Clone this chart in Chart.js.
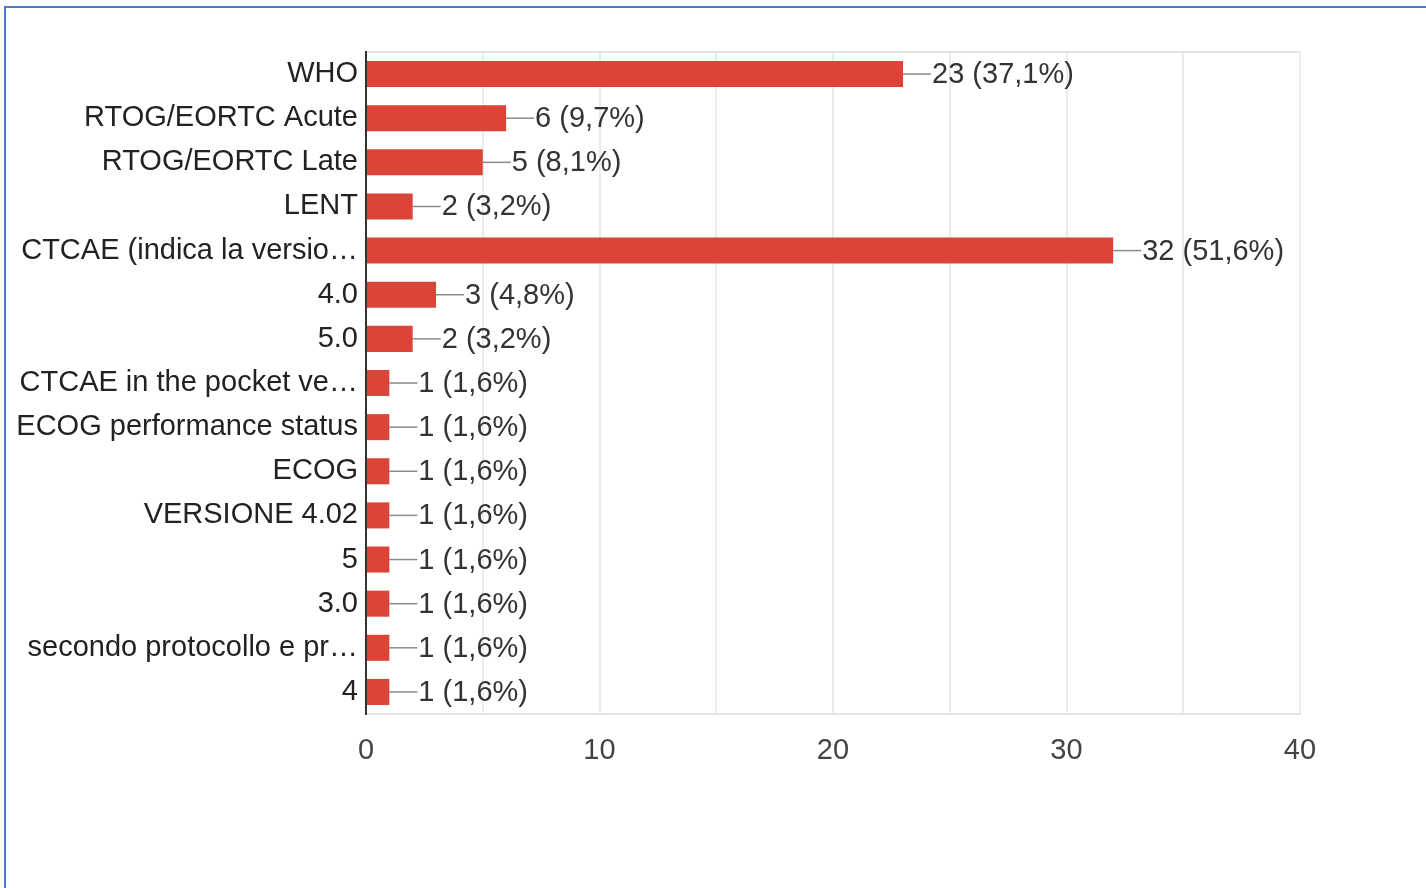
<!DOCTYPE html>
<html>
<head>
<meta charset="utf-8">
<script src="https://cdn.jsdelivr.net/npm/chart.js@4"></script>
<style>
  html, body { margin: 0; padding: 0; background: #fff; }
  body { width: 1426px; height: 888px; position: relative; overflow: hidden; }
  .frame {
    position: absolute; left: 4px; top: 6px; right: 0; bottom: -10px;
    border-top: 2px solid #4a7bd0; border-left: 2px solid #4a7bd0;
  }
  .wrap { position: absolute; left: 0; top: 0; width: 1426px; height: 888px; }
</style>
</head>
<body>
<div class="frame"></div>
<div class="wrap"><canvas id="c"></canvas></div>
<script>
"use strict";

const categories = [
  "WHO",
  "RTOG/EORTC Acute",
  "RTOG/EORTC Late",
  "LENT",
  "CTCAE (indica la versio…",
  "4.0",
  "5.0",
  "CTCAE in the pocket ve…",
  "ECOG performance status",
  "ECOG",
  "VERSIONE 4.02",
  "5",
  "3.0",
  "secondo protocollo e pr…",
  "4",
];
const counts = [23, 6, 5, 2, 32, 3, 2, 1, 1, 1, 1, 1, 1, 1, 1];
const percents = ["37,1%", "9,7%", "8,1%", "3,2%", "51,6%", "4,8%", "3,2%",
  "1,6%", "1,6%", "1,6%", "1,6%", "1,6%", "1,6%", "1,6%", "1,6%"];

const BAR = "#db4437";
const GRID = "#ebebeb";
const FONT = '"Liberation Sans", Arial, sans-serif';

// leader line + "n (p%)" at the end of each bar
const valueLabels = {
  id: "valueLabels",
  afterDatasetsDraw(chart) {
    const ctx = chart.ctx;
    const meta = chart.getDatasetMeta(0);
    ctx.save();
    ctx.font = "29px " + FONT;
    ctx.textAlign = "left";
    ctx.textBaseline = "middle";
    meta.data.forEach((bar, i) => {
      ctx.strokeStyle = "#8a8a8a";
      ctx.lineWidth = 1.5;
      ctx.beginPath();
      ctx.moveTo(bar.x, bar.y);
      ctx.lineTo(bar.x + 28, bar.y);
      ctx.stroke();
      ctx.fillStyle = "#333";
      ctx.fillText(counts[i] + " (" + percents[i] + ")", bar.x + 29, bar.y + 1);
    });
    ctx.restore();
  },
};

new Chart(document.getElementById("c"), {
  type: "bar",
  data: {
    labels: categories,
    datasets: [{
      data: counts,
      backgroundColor: BAR,
      borderWidth: 0,
      barPercentage: 0.59,
      categoryPercentage: 1,
    }],
  },
  options: {
    indexAxis: "y",
    responsive: true,
    maintainAspectRatio: false,
    animation: false,
    layout: { padding: { top: 52, right: 126, left: 0, bottom: 0 } },
    plugins: { legend: { display: false }, tooltip: { enabled: false } },
    scales: {
      x: {
        min: 0, max: 40,
        afterFit: (s) => { s.height = 174; },
        border: { color: "#e4e4e4", width: 2 },
        grid: { color: GRID, lineWidth: 2, drawTicks: false },
        ticks: {
          stepSize: 5,
          padding: 20,
          color: "#444",
          font: { family: FONT, size: 29 },
          callback: (v) => (v % 10 === 0 ? v : ""),
        },
      },
      y: {
        afterFit: (s) => { s.width = 366; },
        border: { color: "#333", width: 2 },
        grid: {
          drawTicks: false,
          lineWidth: 2,
          color: (c) => (c.index === 0 ? "#e4e4e4" : "transparent"),
        },
        ticks: {
          padding: 8,
          color: "#222",
          font: { family: FONT, size: 29 },
          autoSkip: false,
        },
      },
    },
  },
  plugins: [valueLabels],
});
</script>
</body>
</html>
